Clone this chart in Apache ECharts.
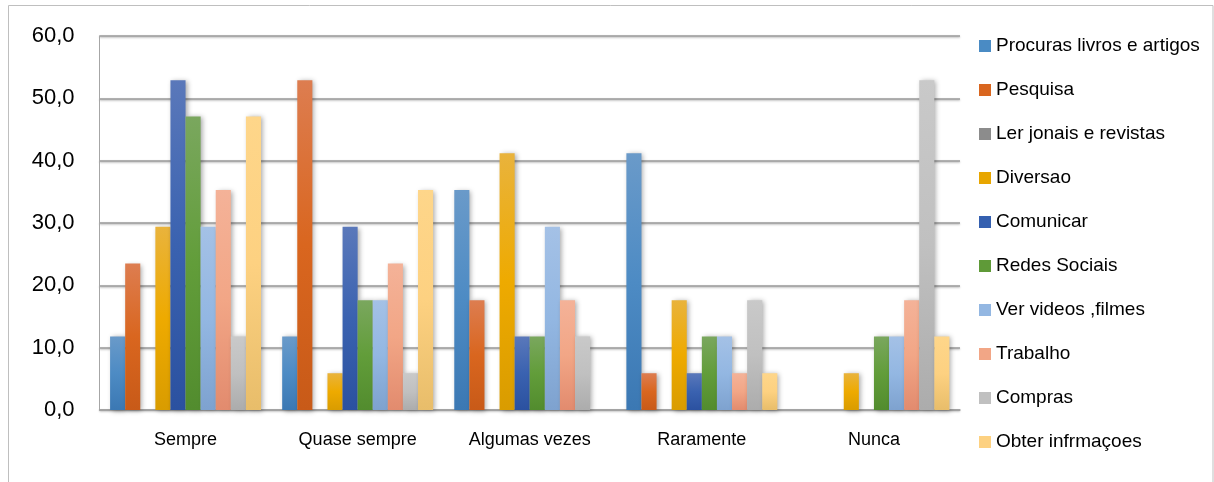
<!DOCTYPE html>
<html>
<head>
<meta charset="utf-8">
<script src="https://cdn.jsdelivr.net/npm/echarts@6/dist/echarts.min.js"></script>
<style>
html,body{margin:0;padding:0;background:#fff;}
#c{width:1214px;height:482px;}
</style>
</head>
<body>
<div id="c"></div>
<script>
var categories = ['Sempre', 'Quase sempre', 'Algumas vezes', 'Raramente', 'Nunca'];
var seriesNames = ['Procuras livros e artigos', 'Pesquisa', 'Ler jonais e revistas', 'Diversao', 'Comunicar', 'Redes Sociais', 'Ver videos ,filmes', 'Trabalho', 'Compras', 'Obter infrmaçoes'];
var procuras = [11.8, 11.8, 35.3, 41.2, 0];
var pesquisa = [23.5, 52.9, 17.6, 5.9, 0];
var lerJornais = [0, 0, 0, 0, 0];
var diversao = [29.4, 5.9, 41.2, 17.6, 5.9];
var comunicar = [52.9, 29.4, 11.8, 5.9, 0];
var redesSociais = [47.1, 17.6, 11.8, 11.8, 11.8];
var verVideos = [29.4, 17.6, 29.4, 11.8, 11.8];
var trabalho = [35.3, 23.5, 17.6, 5.9, 17.6];
var compras = [11.8, 5.9, 11.8, 17.6, 52.9];
var obter = [47.1, 35.3, 0, 5.9, 11.8];
var yTicks = [0, 10, 20, 30, 40, 50, 60];

var allData = [procuras, pesquisa, lerJornais, diversao, comunicar, redesSociais, verVideos, trabalho, compras, obter];
// gradient colours: [top, mid, bottom], legend colour
var palette = [
  ['#6a9ac9', '#4d8bc4', '#3b78b3', '#4a8bc4'],
  ['#dd7d50', '#d9661f', '#c85a18', '#d9661f'],
  ['#9a9a9a', '#8c8c8c', '#7a7a7a', '#8c8c8c'],
  ['#e9b33c', '#eeaa00', '#d99c00', '#e8a600'],
  ['#5a78ba', '#3a62b0', '#2b51a0', '#3560b0'],
  ['#7aa75e', '#629d3a', '#528c2e', '#5f9a38'],
  ['#a4c1e6', '#93b7e2', '#7ea2cf', '#93b7e2'],
  ['#f4b298', '#f2a686', '#e28b6e', '#f2a686'],
  ['#c9c9c9', '#c0c0c0', '#acacac', '#c0c0c0'],
  ['#fed68a', '#fdd181', '#e8bd6a', '#fdd181']
];

var series = seriesNames.map(function (name, i) {
  var p = palette[i];
  return {
    name: name,
    type: 'bar',
    data: allData[i],
    barGap: '0%',
    barCategoryGap: '12.3%',
    itemStyle: {
      color: {
        type: 'linear', x: 0, y: 0, x2: 0, y2: 1,
        colorStops: [
          {offset: 0, color: p[0]},
          {offset: 0.5, color: p[1]},
          {offset: 1, color: p[2]}
        ]
      },
      shadowBlur: 5,
      shadowColor: 'rgba(0,0,0,0.35)',
      shadowOffsetX: 2,
      shadowOffsetY: 1
    }
  };
});

var chart = echarts.init(document.getElementById('c'), null, {renderer: 'canvas'});
chart.setOption({
  animation: false,
  backgroundColor: '#ffffff',
  color: palette.map(function (p) { return p[3]; }),
  textStyle: {fontFamily: 'Liberation Sans'},
  graphic: [{
    type: 'rect',
    shape: {x: 8.5, y: 5.5, width: 1204.5, height: 490},
    style: {fill: 'none', stroke: '#bfbfbf', lineWidth: 1},
    silent: true,
    z: -10
  }],
  grid: {left: 99.5, right: 254, top: 36, bottom: 72, containLabel: false},
  legend: {
    orient: 'vertical',
    left: 979,
    top: 36,
    padding: 0,
    itemWidth: 12,
    itemHeight: 12,
    itemGap: 24,
    icon: 'rect',
    textStyle: {fontSize: 19, lineHeight: 20, color: '#000', fontFamily: 'Liberation Sans', padding: [0, 0, 0, 0]},
    data: seriesNames.map(function (n, i) {
      return {name: n, itemStyle: {color: palette[i][3], shadowBlur: 0}};
    })
  },
  xAxis: {
    type: 'category',
    data: categories,
    axisLine: {lineStyle: {color: '#a0a0a0', width: 1.5}},
    axisTick: {show: false},
    axisLabel: {fontSize: 18, color: '#000', margin: 21, fontFamily: 'Liberation Sans'}
  },
  yAxis: {
    type: 'value',
    min: yTicks[0],
    max: yTicks[yTicks.length - 1],
    interval: 10,
    axisLine: {show: true, lineStyle: {color: '#a6a6a6', width: 1}},
    axisTick: {show: false},
    axisLabel: {
      fontSize: 22, color: '#000', margin: 25, fontFamily: 'Liberation Sans',
      formatter: function (v) { return v.toFixed(1).replace('.', ','); }
    },
    splitLine: {
      lineStyle: {color: '#9a9a9a', width: 1.5, shadowBlur: 2, shadowColor: 'rgba(0,0,0,0.3)', shadowOffsetY: 1}
    }
  },
  series: series
});
</script>
</body>
</html>
